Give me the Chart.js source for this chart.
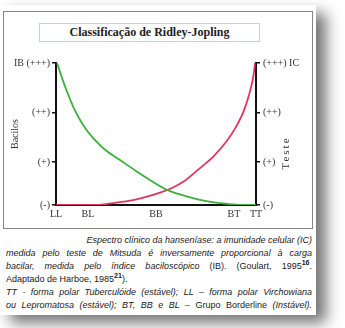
<!DOCTYPE html>
<html>
<head>
<meta charset="utf-8">
<script src="https://cdn.jsdelivr.net/npm/chart.js@4"></script>
<style>
  html, body { margin: 0; padding: 0; background: #fff; width: 345px; height: 328px; overflow: hidden; }
  .sheet { position: absolute; left: 0; top: 5px; width: 316px; height: 310px; background: #fff;
           box-shadow: 10px 8px 14px rgba(0,0,0,0.55); }
  .frame { position: absolute; left: 3px; top: 11px; width: 308px; height: 216px; border: 1.5px solid #858585; }
  .title { position: absolute; left: 39px; top: 23px; width: 219px; height: 17px; border: 1.5px solid #cdd1d8;
           font: bold 12px "Liberation Serif", serif; color: #222; text-align: center; line-height: 17px; }
  .wrap { position: absolute; left: 0; top: 50px; width: 320px; height: 175px; }
  .caption { position: absolute; left: 6px; top: 234px; width: 306px; font: italic 9px "Liberation Sans", Arial, sans-serif;
             color: #1a1a1a; line-height: 13px; }
  .caption div { white-space: nowrap; }
  .j { text-align: justify; text-align-last: justify; }
  .r { text-align: right; }
  .up { font-style: normal; }
  sup { font-size: 7px; font-weight: bold; font-style: normal; line-height: 0; }
</style>
</head>
<body>
<div class="sheet"></div>
<div class="frame"></div>
<div class="title">Classificação de Ridley-Jopling</div>
<div class="wrap"><canvas id="myChart"></canvas></div>
<div class="caption">
  <div class="r">Espectro clínico da hanseníase: a imunidade celular (IC)</div>
  <div class="j">medida pelo teste de Mitsuda é inversamente proporcional à carga</div>
  <div class="j">bacilar, medida pelo índice baciloscópico <span class="up">(IB). (Goulart, 1995<sup>16</sup>.</span></div>
  <div class="up">Adaptado de Harboe, 1985<sup>21</sup>).</div>
  <div class="j">TT - forma polar Tuberculóide (estável); LL – forma polar Virchowiana</div>
  <div class="j">ou Lepromatosa (estável); BT, BB e BL – <span class="up">Grupo Borderline</span> (Instável).</div>
</div>
<script>
const xTickVals = [0, 16, 50, 89, 100]
const xTickLabels = ['LL', 'BL', 'BB', 'BT', 'TT']
// the drawn ticks are not evenly spaced
const yTickVals = [0, 0.91, 1.95, 3]
const leftTickLabels = ['(-)', '(+)', '(++)', 'IB (+++)']
const rightTickLabels = ['(-)', '(+)', '(++)', '(+++) IC']

// bacilos (IB) curve
const greenX = [0.5, 5, 10, 15, 20, 25, 32, 40, 48, 55.5, 64, 72, 80, 88, 94, 100]
const greenY = [3.0, 2.45, 1.95, 1.6, 1.35, 1.15, 0.95, 0.72, 0.5, 0.32, 0.2, 0.11, 0.05, 0.015, 0, 0]
// teste (IC) curve
const redX = [0, 10, 20, 25, 30, 38, 45, 52, 58, 64, 72, 79, 85, 90, 94, 97, 99, 99.5]
const redY = [0, 0, 0, 0.02, 0.05, 0.1, 0.17, 0.26, 0.36, 0.5, 0.78, 1.04, 1.33, 1.65, 2.0, 2.4, 2.8, 3.0]

const serif = '"Liberation Serif", "DejaVu Serif", serif'

const rightTitle = {
    id: 'rightTitle',
    afterDraw (chart) {
        const ctx = chart.ctx
        const a = chart.chartArea
        ctx.save()
        ctx.translate(a.right + 30, (a.top + a.bottom) / 2 + 19)
        ctx.rotate(-Math.PI / 2)
        ctx.font = '11px ' + serif
        ctx.fillStyle = '#333'
        ctx.textAlign = 'center'
        ctx.textBaseline = 'middle'
        ctx.letterSpacing = '2px'
        ctx.fillText('Teste', 0, 0)
        ctx.restore()
    }
}

const tickFont = { family: serif, size: 10 }
const yTicks = axis => { axis.ticks = yTickVals.map(v => ({ value: v })) }

new Chart(document.getElementById('myChart'), {
    type: 'line',
    data: {
        datasets: [{
            label: 'Bacilos',
            data: greenX.map((x, i) => ({ x: x, y: greenY[i] })),
            borderColor: '#3cb03a',
            borderWidth: 1.8,
            pointRadius: 0,
            cubicInterpolationMode: 'monotone',
            yAxisID: 'y'
        }, {
            label: 'Teste',
            data: redX.map((x, i) => ({ x: x, y: redY[i] })),
            borderColor: '#e0345f',
            borderWidth: 1.8,
            pointRadius: 0,
            cubicInterpolationMode: 'monotone',
            yAxisID: 'y'
        }]
    },
    options: {
        responsive: true,
        maintainAspectRatio: false,
        animation: false,
        layout: { padding: { top: 13, left: 0, right: 0, bottom: 0 } },
        plugins: { legend: { display: false }, tooltip: { enabled: false } },
        scales: {
            x: {
                type: 'linear', min: 0, max: 100,
                afterBuildTicks: axis => { axis.ticks = xTickVals.map(v => ({ value: v })) },
                afterFit: s => { s.height = 20 },
                ticks: {
                    autoSkip: false, maxRotation: 0, padding: 3, color: '#333', font: tickFont,
                    callback: v => xTickLabels[xTickVals.indexOf(v)]
                },
                grid: { display: false, drawTicks: false },
                border: { display: true, color: '#111', width: 2 }
            },
            y: {
                position: 'left', min: 0, max: 3,
                afterBuildTicks: yTicks,
                afterFit: s => { s.width = 56 },
                ticks: { autoSkip: false, padding: 2, color: '#333', font: tickFont, callback: v => leftTickLabels[yTickVals.indexOf(v)] },
                grid: { drawOnChartArea: false, drawTicks: true, tickLength: 4, color: '#111', lineWidth: 1.5 },
                border: { color: '#111', width: 2 },
                title: { display: true, text: 'Bacilos', color: '#333', font: { family: serif, size: 10 }, padding: { top: 9, bottom: 0 } }
            },
            y2: {
                position: 'right', min: 0, max: 3,
                afterBuildTicks: yTicks,
                afterFit: s => { s.width = 64 },
                ticks: { autoSkip: false, padding: 3, color: '#333', font: tickFont, callback: v => rightTickLabels[yTickVals.indexOf(v)] },
                grid: { drawOnChartArea: false, drawTicks: true, tickLength: 4, color: '#111', lineWidth: 1.5 },
                border: { color: '#111', width: 2 }
            }
        }
    },
    plugins: [rightTitle]
})
</script>
</body>
</html>
